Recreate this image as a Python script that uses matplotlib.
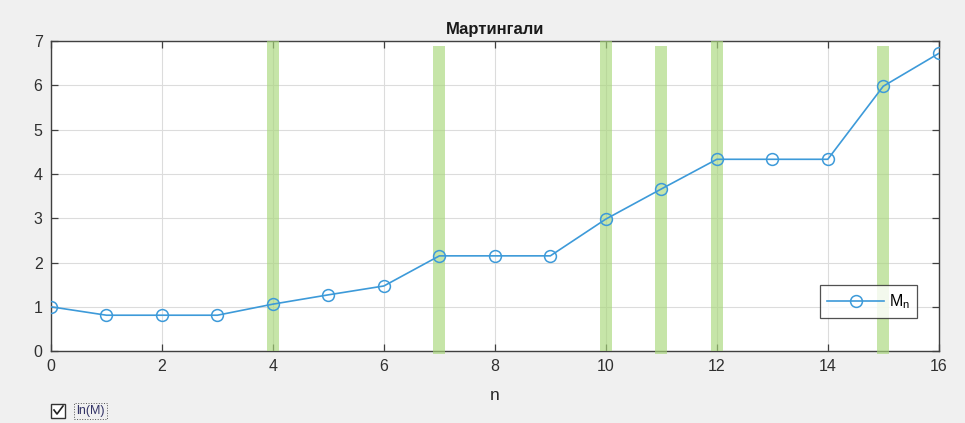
import matplotlib
matplotlib.use("Agg")
import matplotlib.pyplot as plt
from matplotlib.patches import Rectangle
from matplotlib.lines import Line2D

plt.rcParams['font.family'] = ['Liberation Sans', 'DejaVu Sans']

# Martingale path
n_values = list(range(17))
m_values = [1.00, 0.81, 0.81, 0.81, 1.06, 1.27, 1.47, 2.15, 2.15, 2.15,
            2.98, 3.66, 4.33, 4.33, 4.33, 5.98, 6.72]

# Highlighted steps (vertical bands)
band_n = [4, 7, 10, 11, 12, 15]
band_bottom = [0.0, -0.07, 0.0, -0.07, 0.0, -0.07]
band_top = [7.0, 6.88, 7.0, 6.88, 7.0, 6.88]

x_ticks = [0, 2, 4, 6, 8, 10, 12, 14, 16]
y_ticks = [0, 1, 2, 3, 4, 5, 6, 7]

fig = plt.figure(figsize=(9.65, 4.23), dpi=100, facecolor='#f0f0f0')
ax = fig.add_axes([0.0528, 0.170, 0.920, 0.733])
ax.set_facecolor('white')

band_color = '#a8d77a'
for xn, b0, b1 in zip(band_n, band_bottom, band_top):
    ax.add_patch(Rectangle((xn - 0.11, b0), 0.22, b1 - b0,
                           facecolor=band_color, alpha=0.65, edgecolor='none',
                           clip_on=False, zorder=3))

line_color = '#3d9ad9'
ax.plot(n_values, m_values, color=line_color, lw=1.2, marker='o',
        markersize=8.5, markerfacecolor='none', markeredgecolor=line_color,
        markeredgewidth=1.1, label=r'M$_\mathregular{n}$', zorder=4)

ax.set_xlim(0, 16)
ax.set_ylim(0, 7)
ax.set_xticks(x_ticks)
ax.set_yticks(y_ticks)
ax.grid(True, color='#dcdcdc', lw=0.8)
ax.set_axisbelow(True)

edge = '#404040'
for s in ax.spines.values():
    s.set_color(edge)
    s.set_linewidth(1.0)
ax.tick_params(direction='in', length=5, width=0.9, color=edge,
               top=True, right=True, labelsize=11.5, labelcolor='#303030', pad=6)

ax.set_xlabel('n', fontsize=12.5, color='#262626', labelpad=10)
ax.set_title('Мартингали', fontsize=12, fontweight='bold', color='#1a1a1a', pad=5)

leg = ax.legend(loc='lower right', bbox_to_anchor=(0.976, 0.106),
                borderaxespad=0, fontsize=11.5, frameon=True, fancybox=False,
                handlelength=3.6, borderpad=0.45, handletextpad=0.3)
leg.get_frame().set_edgecolor('#262626')
leg.get_frame().set_linewidth(0.9)

# Checkbox control below the plot
fig.patches.append(Rectangle((51 / 965, 1 - 418 / 423), 14 / 965, 14 / 423,
                             transform=fig.transFigure, facecolor='white',
                             edgecolor='#333333', lw=1.0))
fig.lines.append(Line2D([54 / 965, 57 / 965, 63 / 965],
                        [1 - 410 / 423, 1 - 414 / 423, 1 - 406 / 423],
                        transform=fig.transFigure, color='#222222', lw=1.2))
fig.patches.append(Rectangle((74 / 965, 1 - 419 / 423), 33 / 965, 16 / 423,
                             transform=fig.transFigure, facecolor='none',
                             edgecolor='#555555', lw=0.7, linestyle=':'))
fig.text(76 / 965, 1 - 411 / 423, 'ln(M)', fontsize=9, color='#333366',
         va='center', ha='left')

fig.savefig('out.png', dpi=100, facecolor=fig.get_facecolor())
